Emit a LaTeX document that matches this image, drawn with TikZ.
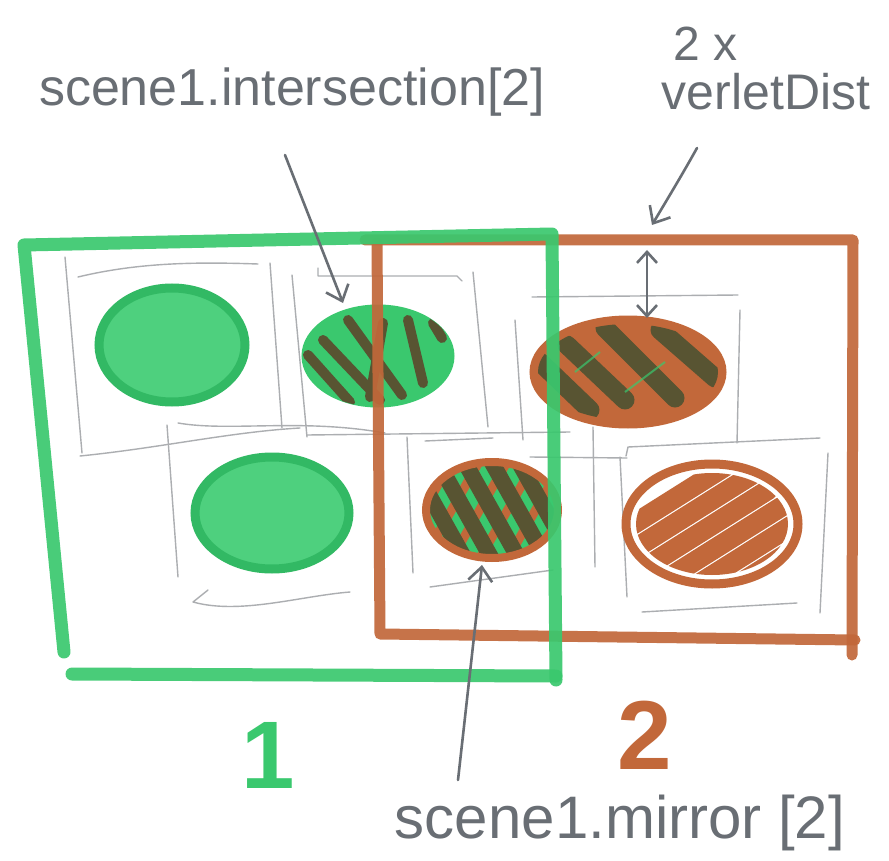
\documentclass[tikz,border=0pt]{standalone}
\usepackage{fontspec}
\setmainfont{Liberation Sans}
\usetikzlibrary{arrows.meta}
\definecolor{mgreen}{RGB}{58,200,110}
\definecolor{mgreenfill}{RGB}{78,208,126}
\definecolor{mgreendark}{RGB}{50,185,100}
\definecolor{mbrown}{RGB}{194,104,58}
\definecolor{mdark}{RGB}{88,84,50}
\definecolor{pencil}{RGB}{172,174,177}
\definecolor{ink}{RGB}{105,110,116}
\begin{document}
\begin{tikzpicture}[x=1pt,y=-1pt,
  pencilline/.style={draw=pencil, line width=1.4pt, line cap=round, line join=round},
  greenmarker/.style={draw=mgreen, line width=13pt, line cap=round, line join=round, opacity=0.92},
  brownmarker/.style={draw=mbrown, line width=11pt, line cap=round, line join=round, opacity=0.92},
  stripe/.style={draw=mdark, line width=10pt, line cap=round},
  inkarrow/.style={draw=ink, line width=2.6pt, line cap=round, -{Straight Barb[length=14pt,width=24pt,line width=2.6pt]}},
  inkboth/.style={draw=ink, line width=2.6pt, line cap=round, {Straight Barb[length=11pt,width=20pt,line width=2.6pt]}-{Straight Barb[length=11pt,width=20pt,line width=2.6pt]}},
  lbl/.style={text=ink, inner sep=0pt}]
\fill[white] (0,0) rectangle (889,861);
\useasboundingbox (0,0) rectangle (889,861);

% ---------- pencil cell outlines ----------
% cell A
\draw[pencilline] (78,277) .. controls (140,262) and (200,262) .. (258,264);
\draw[pencilline] (65,257) -- (82,453);
\draw[pencilline] (270,263) -- (282,428);
\draw[pencilline] (80,456) .. controls (160,448) and (230,432) .. (300,428);
% cell C
\draw[pencilline] (178,423) .. controls (230,432) and (300,418) .. (385,433);
\draw[pencilline] (167,425) -- (178,577);
\draw[pencilline] (208,590) -- (193,602) .. controls (240,615) and (300,596) .. (350,592);
% cell B
\draw[pencilline] (318,268) -- (318,276) -- (457,276) -- (462,281);
\draw[pencilline] (292,275) -- (307,437);
\draw[pencilline] (473,272) -- (488,427);
\draw[pencilline] (307,435) -- (570,432);
% cell D
\draw[pencilline] (425,441) -- (493,438);
\draw[pencilline] (407,437) -- (413,573);
\draw[pencilline] (430,587) -- (553,570);
% cell E
\draw[pencilline] (532,297) -- (738,295);
\draw[pencilline] (515,320) -- (523,440);
\draw[pencilline] (740,310) -- (737,443);
\draw[pencilline] (530,457) -- (627,458);
\draw[pencilline] (593,427) -- (595,567);
% cell F
\draw[pencilline] (626,456) -- (628,447) -- (820,438);
\draw[pencilline] (620,457) -- (627,597);
\draw[pencilline] (828,453) -- (820,613);
\draw[pencilline] (642,612) -- (797,603);

% ---------- scene 1 ellipses ----------
\filldraw[fill=mgreenfill, draw=mgreendark, line width=9pt] (172,345) ellipse [x radius=73pt, y radius=57pt];
\filldraw[fill=mgreenfill, draw=mgreendark, line width=9pt] (272,513) ellipse [x radius=77pt, y radius=56pt];
\filldraw[fill=mgreen, draw=mgreen, line width=3pt] (378,356) ellipse [x radius=75pt, y radius=50pt];
\begin{scope}
  \clip (378,356) ellipse [x radius=76pt, y radius=51pt];
  \draw[stripe] (308,355) -- (350,402);
  \draw[stripe] (323,340) -- (380,400);
  \draw[stripe] (348,320) -- (402,395);
  \draw[stripe] (383,323) -- (370,397);
  \draw[stripe] (408,320) -- (423,383);
  \draw[stripe] (433,323) -- (442,338);
\end{scope}

% ---------- scene 2 ellipses ----------
% top-right: brown with dark stripes
\fill[mbrown] (628,372) ellipse [x radius=95pt, y radius=53pt];
\begin{scope}
  \clip (628,372) ellipse [x radius=90pt, y radius=48pt];
  \draw[stripe, line width=19pt] (540,362) -- (590,410);
  \draw[stripe, line width=19pt] (567,345) -- (625,400);
  \draw[stripe, line width=19pt] (605,328) -- (675,398);
  \draw[stripe, line width=19pt] (660,330) -- (715,378);
  \draw[mgreen, line width=2pt, opacity=0.7] (575,372) -- (600,352);
  \draw[mgreen, line width=2pt, opacity=0.7] (625,392) -- (665,362);
\end{scope}
\draw[mbrown, line width=7pt] (628,372) ellipse [x radius=95pt, y radius=53pt];

% mirror: brown outline, green + dark stripes
\fill[mgreen] (492,510) ellipse [x radius=66pt, y radius=48pt];
\begin{scope}
  \clip (492,510) ellipse [x radius=66pt, y radius=48pt];
  \foreach \s in {0,...,7} {
    \draw[mbrown, line width=9pt] (395+\s*28,560) -- (455+\s*28,455);
  }
  \foreach \s in {0,...,6} {
    \draw[stripe, line width=16pt] (405+\s*27,452) -- (470+\s*27,568);
  }
\end{scope}
\draw[mbrown, line width=8pt] (492,510) ellipse [x radius=66pt, y radius=48pt];

% bottom-right: brown outline with brown scribble
\draw[mbrown, line width=9pt] (712,524) ellipse [x radius=86pt, y radius=60pt];
\begin{scope}
  \clip (712,524) ellipse [x radius=76pt, y radius=51pt];
  \foreach \k in {0,...,7} {
    \draw[mbrown, line width=20pt, line cap=round] (618+\k*13,534+\k*17) -- (742+\k*13,456+\k*17);
  }
\end{scope}

% ---------- scene frames ----------
\draw[brownmarker] (365,240) -- (853,240) -- (852,655);
\draw[brownmarker] (377,243) -- (380,634) -- (855,640);
\draw[greenmarker] (64,652) -- (24,245) -- (552,234) -- (556,680);
\draw[greenmarker] (72,674) -- (556,676);

% ---------- labels ----------
\node[lbl, font=\fontsize{52}{60}\selectfont] (tint) at (292,92) {scene1.intersection[2]};
\node[lbl, font=\fontsize{48}{56}\selectfont] (ttwo) at (706,44) {2 x};
\node[lbl, font=\fontsize{50}{58}\selectfont] (tverlet) at (766,92) {verletDist};
\node[lbl, font=\fontsize{60}{68}\selectfont] (tmirror) at (620,823) {scene1.mirror [2]};
\node[inner sep=0pt, text=mgreen, font=\fontsize{96}{100}\selectfont\bfseries] (one) at (268,755) {1};
\node[inner sep=0pt, text=mbrown, font=\fontsize{98}{100}\selectfont\bfseries] (two) at (645,735) {2};

% ---------- arrows ----------
\coordinate (intS) at (285,155);
\coordinate (intE) at (343,303);
\coordinate (verS) at (697,148);
\coordinate (verE) at (652,225);
\coordinate (dA) at (647,250);
\coordinate (dB) at (647,318);
\coordinate (mirS) at (458,780);
\coordinate (mirE) at (482,565);
\draw[inkarrow] (intS) -- (intE);
\draw[inkarrow] (verS) .. controls (682,175) and (668,198) .. (verE);
\draw[inkboth] (dA) -- (dB);
\draw[inkarrow] (mirS) -- (mirE);
\end{tikzpicture}
\end{document}
